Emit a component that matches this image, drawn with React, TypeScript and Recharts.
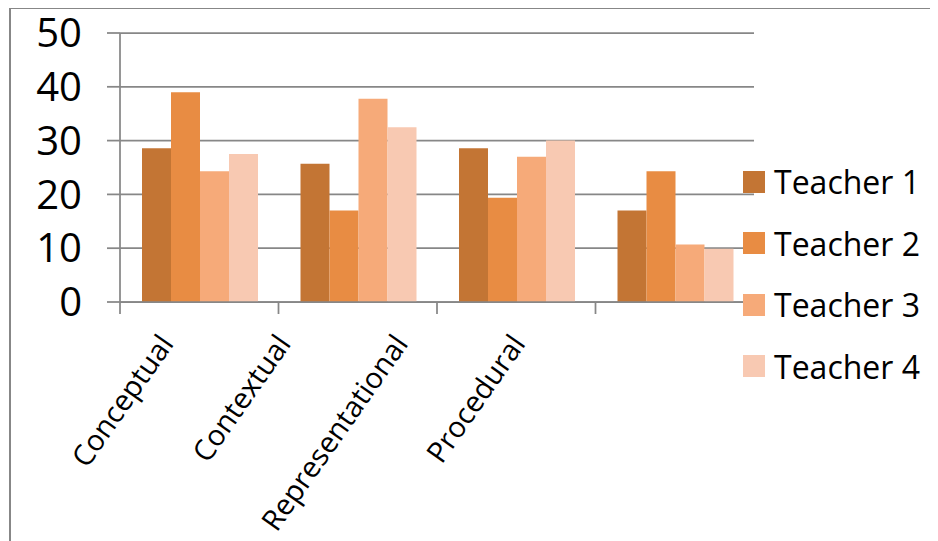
import React from 'react';
import {
  BarChart,
  Bar,
  XAxis,
  YAxis,
  CartesianGrid,
  Legend,
} from 'recharts';

const categories = ['Conceptual', 'Contextual', 'Representational', 'Procedural'];
const teacher1 = [28.6, 25.7, 28.6, 17.0];
const teacher2 = [39.0, 17.0, 19.4, 24.3];
const teacher3 = [24.3, 37.8, 27.0, 10.7];
const teacher4 = [27.5, 32.5, 30.0, 9.9];
const yTicks = [0, 10, 20, 30, 40, 50];

const SERIES = [
  { key: 'teacher1', name: 'Teacher 1', color: '#C37534' },
  { key: 'teacher2', name: 'Teacher 2', color: '#E88C43' },
  { key: 'teacher3', name: 'Teacher 3', color: '#F6AA79' },
  { key: 'teacher4', name: 'Teacher 4', color: '#F8C9B2' },
];

const data = categories.map((c, i) => ({
  category: c,
  teacher1: teacher1[i],
  teacher2: teacher2[i],
  teacher3: teacher3[i],
  teacher4: teacher4[i],
}));

const FONT = '"Open Sans", sans-serif';
const GRAY = '#878787';

// tick marks sit on the category boundaries, not the centres
function BoundaryTick(props: any) {
  const { x, y, payload, index } = props;
  const half = payload && payload.offset ? payload.offset : 0;
  const last = index === categories.length - 1;
  return (
    <g>
      <line x1={x - half} x2={x - half} y1={y} y2={y + 12} stroke={GRAY} strokeWidth={1.75} />
      {last && (
        <line x1={x + half} x2={x + half} y1={y} y2={y + 12} stroke={GRAY} strokeWidth={1.75} />
      )}
    </g>
  );
}

function CategoryTick(props: any) {
  const { x, y, payload } = props;
  return (
    <g transform={`translate(${x - 13},${y})`}>
      <text
        x={0}
        y={0}
        dy={28}
        textAnchor="end"
        transform="rotate(-55, 0, 28)"
        fontFamily={FONT}
        fontSize={29}
        fill="#000"
      >
        {payload.value}
      </text>
    </g>
  );
}

function LegendContent(props: any) {
  const { payload } = props;
  return (
    <div style={{ fontFamily: FONT }}>
      {payload.map((entry: any) => (
        <div
          key={entry.value}
          style={{ display: 'flex', alignItems: 'center', height: 61.5 }}
        >
          <span
            style={{
              display: 'inline-block',
              width: 22,
              height: 22,
              background: entry.color,
              marginRight: 9,
            }}
          />
          <span style={{ fontSize: 32, color: '#000', whiteSpace: 'nowrap' }}>
            {entry.value}
          </span>
        </div>
      ))}
    </div>
  );
}

export default function App() {
  return (
    <div
      style={{
        position: 'relative',
        width: 929,
        height: 534,
        marginTop: -1,
        marginLeft: 1,
        borderLeft: `2px solid ${GRAY}`,
        borderTop: `2px solid ${GRAY}`,
        boxSizing: 'border-box',
        overflow: 'hidden',
      }}
    >
      <BarChart
        width={927}
        height={532}
        data={data}
        barGap={0}
        barCategoryGap={22}
        margin={{ top: 24, right: 184, bottom: 10, left: 0 }}
      >
        <CartesianGrid
          vertical={false}
          stroke={GRAY}
          strokeWidth={1.75}
          yAxisId="y"
          xAxisId="base"
        />
        <XAxis
          xAxisId="base"
          dataKey="category"
          interval={0}
          height={14}
          tickSize={0}
          tickMargin={0}
          tickLine={false}
          axisLine={{ stroke: GRAY, strokeWidth: 1.75 }}
          tick={<BoundaryTick />}
        />
        <XAxis
          xAxisId="names"
          dataKey="category"
          padding={{ left: 9, right: 156 }}
          axisLine={false}
          tickLine={false}
          tickSize={0}
          tickMargin={0}
          interval={0}
          height={215}
          tick={<CategoryTick />}
        />
        <YAxis
          yAxisId="y"
          domain={[0, 50]}
          ticks={yTicks}
          width={109}
          tickSize={13}
          tickMargin={25}
          axisLine={{ stroke: GRAY, strokeWidth: 1.75 }}
          tickLine={{ stroke: GRAY, strokeWidth: 1.75 }}
          tick={{ fontFamily: FONT, fontSize: 40, fill: '#000' }}
        />
        <Legend
          layout="vertical"
          align="center"
          verticalAlign="middle"
          content={<LegendContent />}
          wrapperStyle={{ left: 732, top: 142, width: 'auto' }}
        />
        {SERIES.map((s) => (
          <Bar
            key={s.key}
            dataKey={s.key}
            name={s.name}
            fill={s.color}
            xAxisId="base"
            yAxisId="y"
            isAnimationActive={false}
          />
        ))}
      </BarChart>
    </div>
  );
}
